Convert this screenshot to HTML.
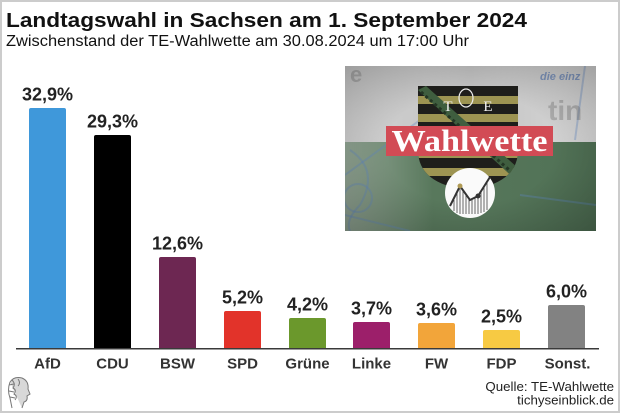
<!DOCTYPE html>
<html><head><meta charset="utf-8"><style>
html,body{margin:0;padding:0;background:#fff;}
svg{display:block;}
</style></head><body>
<svg width="620" height="413" viewBox="0 0 620 413" xmlns="http://www.w3.org/2000/svg">
<defs>
<clipPath id="ic"><rect x="345" y="66" width="251" height="165"/></clipPath>
<clipPath id="sc"><path d="M418,86 H518 V150 Q518,184 468,190 Q418,184 418,150 Z"/></clipPath>
<radialGradient id="vig" cx="0.5" cy="0.5" r="0.75">
<stop offset="0.45" stop-color="#000" stop-opacity="0"/>
<stop offset="1" stop-color="#000" stop-opacity="0.28"/>
</radialGradient>
<linearGradient id="topg" x1="0" y1="0" x2="1" y2="0">
<stop offset="0" stop-color="#d2d2d2"/>
<stop offset="0.5" stop-color="#c2c2c2"/>
<stop offset="1" stop-color="#d8d8d8"/>
</linearGradient>
<linearGradient id="botg" x1="0" y1="0" x2="1" y2="0">
<stop offset="0" stop-color="#93a695"/>
<stop offset="0.35" stop-color="#58785c"/>
<stop offset="1" stop-color="#507155"/>
</linearGradient>
</defs>
<rect x="1" y="1" width="618" height="411" fill="#fff" stroke="#cccccc" stroke-width="2"/>

<!-- Title -->
<text x="6" y="27" font-family="Liberation Sans, sans-serif" font-weight="bold" font-size="20.5" fill="#111" textLength="521" lengthAdjust="spacingAndGlyphs">Landtagswahl in Sachsen am 1. September 2024</text>
<text x="6" y="46" font-family="Liberation Sans, sans-serif" font-size="15.5" fill="#111" textLength="463" lengthAdjust="spacingAndGlyphs">Zwischenstand der TE-Wahlwette am 30.08.2024 um 17:00 Uhr</text>

<!-- Image -->
<g clip-path="url(#ic)">
<rect x="345" y="66" width="251" height="77" fill="url(#topg)"/>
<rect x="345" y="142" width="251" height="89" fill="url(#botg)"/>
<g fill="none" stroke="#5f86c4" stroke-opacity="0.35" stroke-width="2">
<path d="M350,150 Q380,170 360,205 Q345,220 350,231"/>
<circle cx="358" cy="198" r="14"/>
<path d="M345,175 L420,120"/>
<path d="M345,215 L410,231"/>
<path d="M520,195 L596,205"/>
<path d="M585,66 L575,140"/>
</g>
<text x="350" y="82" font-family="Liberation Sans, sans-serif" font-weight="bold" font-size="22" fill="#888" opacity="0.45">e</text>
<text x="540" y="80" font-family="Liberation Sans, sans-serif" font-weight="bold" font-style="italic" font-size="11" fill="#4a6fb0" opacity="0.6">die einz</text>
<text x="548" y="120" font-family="Liberation Sans, sans-serif" font-weight="bold" font-size="28" fill="#777" opacity="0.4">tin</text>
<rect x="345" y="66" width="251" height="165" fill="url(#vig)"/>
<!-- shield -->
<g clip-path="url(#sc)">
<rect x="418" y="86" width="100" height="105" fill="#1e1e1b"/>
<rect x="418" y="96" width="100" height="8" fill="#9d9452"/>
<rect x="418" y="114" width="100" height="8" fill="#9d9452"/>
<rect x="418" y="132" width="100" height="8" fill="#9d9452"/>
<rect x="418" y="150" width="100" height="8" fill="#9d9452"/>
<rect x="418" y="168" width="100" height="8" fill="#9d9452"/>
<polygon points="418,90 426,86 518,168 518,182" fill="#3f5e3f"/>
<polyline points="421,92 516,176" stroke="#243624" stroke-width="3" fill="none" stroke-dasharray="3 3"/>
</g>
<text x="448" y="111" font-family="Liberation Serif, serif" font-size="15" fill="#f2f2f2" text-anchor="middle">T</text>
<text x="488" y="111" font-family="Liberation Serif, serif" font-size="15" fill="#f2f2f2" text-anchor="middle">E</text>
<ellipse cx="466" cy="98" rx="7" ry="9" fill="none" stroke="#eee" stroke-width="1.2"/>
<!-- banner -->
<rect x="386" y="126" width="167" height="30" fill="#d24b55"/>
<text x="469.5" y="151" font-family="Liberation Serif, serif" font-weight="bold" font-size="31" fill="#fff" text-anchor="middle" textLength="156" lengthAdjust="spacingAndGlyphs">Wahlwette</text>
<!-- circle -->
<circle cx="470" cy="193" r="25" fill="#fafafa"/>
<g stroke="#666" stroke-width="1">
<line x1="454" y1="200" x2="454" y2="211"/><line x1="457" y1="193" x2="457" y2="213"/>
<line x1="460" y1="187" x2="460" y2="214"/><line x1="463" y1="191" x2="463" y2="214"/>
<line x1="466" y1="195" x2="466" y2="214"/><line x1="469" y1="199" x2="469" y2="214"/>
<line x1="472" y1="199" x2="472" y2="214"/><line x1="475" y1="197" x2="475" y2="214"/>
<line x1="478" y1="195" x2="478" y2="214"/><line x1="481" y1="191" x2="481" y2="213"/>
<line x1="484" y1="187" x2="484" y2="212"/><line x1="487" y1="183" x2="487" y2="210"/>
</g>
<polyline points="450,206 460,186 470,200 478,196 490,177" fill="none" stroke="#333" stroke-width="2"/>
<circle cx="460" cy="186" r="2.5" fill="#b09a55"/>
<circle cx="478" cy="196" r="2.5" fill="#333"/>
</g>

<!-- Bars -->
<g>
<path d="M29,348 V110 Q29,108 31,108 H64 Q66,108 66,110 V348 Z" fill="#3f98da"/>
<path d="M94,348 V137 Q94,135 96,135 H129 Q131,135 131,137 V348 Z" fill="#000"/>
<path d="M159,348 V259 Q159,257 161,257 H194 Q196,257 196,259 V348 Z" fill="#6d2752"/>
<path d="M224,348 V313 Q224,311 226,311 H259 Q261,311 261,313 V348 Z" fill="#e2332a"/>
<path d="M289,348 V320 Q289,318 291,318 H324 Q326,318 326,320 V348 Z" fill="#6b982c"/>
<path d="M353,348 V324 Q353,322 355,322 H388 Q390,322 390,324 V348 Z" fill="#9c1f6a"/>
<path d="M418,348 V325 Q418,323 420,323 H453 Q455,323 455,325 V348 Z" fill="#f2a53a"/>
<path d="M483,348 V332 Q483,330 485,330 H518 Q520,330 520,332 V348 Z" fill="#f7ca43"/>
<path d="M548,348 V307 Q548,305 550,305 H583 Q585,305 585,307 V348 Z" fill="#828282"/>
</g>
<line x1="16" y1="348.7" x2="599" y2="348.7" stroke="#3a3a3a" stroke-width="1.5"/>

<!-- Value labels -->
<g font-family="Liberation Sans, sans-serif" font-weight="bold" font-size="18" fill="#222" text-anchor="middle">
<text x="47.5" y="100.5">32,9%</text>
<text x="112.5" y="127.5">29,3%</text>
<text x="177.5" y="249.5">12,6%</text>
<text x="242.5" y="303.5">5,2%</text>
<text x="307.5" y="310.5">4,2%</text>
<text x="371.5" y="314.5">3,7%</text>
<text x="436.5" y="315.5">3,6%</text>
<text x="501.5" y="322.5">2,5%</text>
<text x="566.5" y="297.5">6,0%</text>
</g>

<!-- Category labels -->
<g font-family="Liberation Sans, sans-serif" font-weight="bold" font-size="15" fill="#333" text-anchor="middle">
<text x="47.5" y="368.5">AfD</text>
<text x="112.5" y="368.5">CDU</text>
<text x="177.5" y="368.5">BSW</text>
<text x="242.5" y="368.5">SPD</text>
<text x="307.5" y="368.5">Grüne</text>
<text x="371.5" y="368.5">Linke</text>
<text x="436.5" y="368.5">FW</text>
<text x="501.5" y="368.5">FDP</text>
<text x="567.5" y="368.5">Sonst.</text>
</g>

<!-- Footer -->
<g font-family="Liberation Sans, sans-serif" font-size="13.3" fill="#222" text-anchor="end">
<text x="614" y="391">Quelle: TE-Wahlwette</text>
<text x="614" y="404.5">tichyseinblick.de</text>
</g>

<!-- Logo head -->
<g fill="none" stroke="#777" stroke-width="1">
<path d="M10,382 Q14,376 22,378 Q29,381 28,389 L30,394 L27,396 Q28,401 24,402 L22,408" fill="#d8d8d8"/>
<path d="M10,382 Q7,390 10,398 L12,408"/>
<path d="M12,380 Q16,384 13,388 Q17,390 14,394 Q18,396 15,400"/>
<path d="M18,379 Q21,383 18,386"/>
<path d="M9,385 L14,384 M9,391 L14,392 M10,397 L15,398"/>
</g>
</svg>
</body></html>
